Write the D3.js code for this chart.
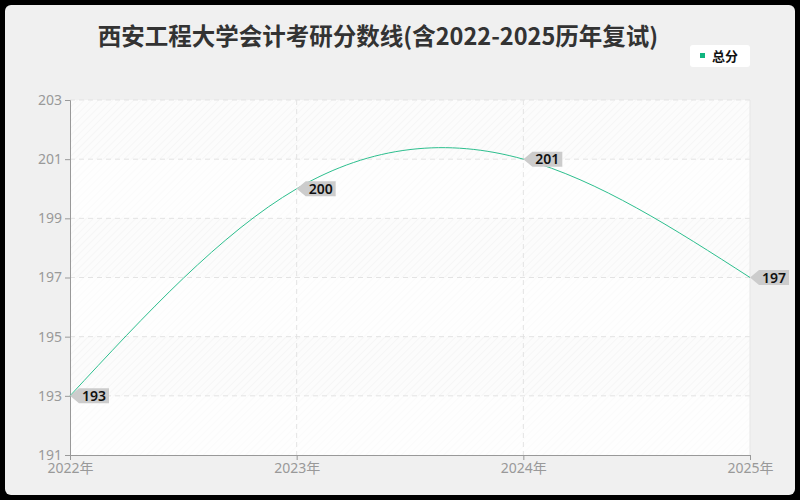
<!DOCTYPE html>
<html>
<head>
<meta charset="utf-8">
<script src="https://cdn.jsdelivr.net/npm/d3@7"></script>
<style>
  body { margin: 0; background: #000; }
  svg { display: block; font-family: "Noto Sans CJK SC", "Noto Sans", sans-serif; }
</style>
</head>
<body>
<svg></svg>
<script>
const years = ["2022", "2023", "2024", "2025"];
const scores = [193, 200, 201, 197];
const yTicks = [191, 193, 195, 197, 199, 201, 203];
const title = "西安工程大学会计考研分数线(含2022-2025历年复试)";
const seriesName = "总分";

const width = 800;
const height = 500;
const margin = { top: 100, right: 50, bottom: 45, left: 70 };
const lineColor = "#2dbf8e";

const svg = d3.select("svg")
    .attr("width", width)
    .attr("height", height);

// achtergrondkaart
svg.append("rect")
    .attr("x", 5).attr("y", 5)
    .attr("width", width - 10).attr("height", height - 10)
    .attr("rx", 6)
    .attr("fill", "#f0f0f0");

const defs = svg.append("defs");
const hatch = defs.append("pattern")
    .attr("id", "hatch")
    .attr("width", 5).attr("height", 5)
    .attr("patternUnits", "userSpaceOnUse")
    .attr("patternTransform", "rotate(45)");
hatch.append("rect").attr("width", 5).attr("height", 5).attr("fill", "#fcfcfc");
hatch.append("line").attr("x1", 0).attr("y1", 0).attr("x2", 0).attr("y2", 5)
    .attr("stroke", "#f3f3f3").attr("stroke-width", 1.2);

const x = d3.scalePoint()
    .domain(years)
    .range([margin.left, width - margin.right]);

const y = d3.scaleLinear()
    .domain([191, 203])
    .range([height - margin.bottom, margin.top]);

// plotgebied
svg.append("rect")
    .attr("x", margin.left).attr("y", margin.top)
    .attr("width", width - margin.left - margin.right)
    .attr("height", height - margin.top - margin.bottom)
    .attr("fill", "url(#hatch)");

// afwisselende banden
svg.selectAll(".band")
    .data(d3.pairs(yTicks).filter((d, i) => i % 2 === 0))
    .enter().append("rect")
    .attr("class", "band")
    .attr("x", margin.left)
    .attr("width", width - margin.left - margin.right)
    .attr("y", d => y(d[1]))
    .attr("height", d => y(d[0]) - y(d[1]))
    .attr("fill", "#ffffff")
    .attr("opacity", 0.5);

// rasterlijnen
svg.selectAll(".hgrid")
    .data(yTicks.slice(1))
    .enter().append("line")
    .attr("x1", margin.left).attr("x2", width - margin.right)
    .attr("y1", d => y(d)).attr("y2", d => y(d))
    .attr("stroke", "#e3e3e3")
    .attr("stroke-dasharray", "5,4");

svg.selectAll(".vgrid")
    .data(years.slice(1, -1))
    .enter().append("line")
    .attr("x1", d => x(d)).attr("x2", d => x(d))
    .attr("y1", margin.top).attr("y2", height - margin.bottom)
    .attr("stroke", "#e3e3e3")
    .attr("stroke-dasharray", "5,4");

svg.append("line")
    .attr("x1", width - margin.right).attr("x2", width - margin.right)
    .attr("y1", margin.top).attr("y2", height - margin.bottom)
    .attr("stroke", "#e6e6e6");

// assen
const yAxis = svg.append("g")
    .attr("transform", `translate(${margin.left},0)`)
    .call(d3.axisLeft(y).tickValues(yTicks).tickSize(5).tickPadding(3));

const xAxis = svg.append("g")
    .attr("transform", `translate(0,${height - margin.bottom})`)
    .call(d3.axisBottom(x).tickFormat(d => d + "年").tickSize(5).tickPadding(2));

[yAxis, xAxis].forEach(g => {
    g.select(".domain").attr("stroke", "#999");
    g.selectAll(".tick line").attr("stroke", "#999");
    g.selectAll("text")
        .attr("fill", "#999")
        .style("font-size", "14px")
        .style("font-family", "\"Noto Sans\", \"Noto Sans CJK SC\", sans-serif");
});
xAxis.selectAll("text").attr("dy", "0.75em");

// lijn
const line = d3.line()
    .x((d, i) => x(years[i]))
    .y(d => y(d))
    .curve(d3.curveNatural);

svg.append("path")
    .datum(scores)
    .attr("d", line)
    .attr("fill", "none")
    .attr("stroke", lineColor)
    .attr("stroke-width", 1);

// labels
const labels = svg.selectAll(".label")
    .data(scores)
    .enter().append("g")
    .attr("class", "label")
    .attr("transform", (d, i) => `translate(${x(years[i])},${y(d)})`);

labels.append("path")
    .attr("d", "M0,0 L9,-7.5 L39,-7.5 L39,7.5 L9,7.5 Z")
    .attr("fill", "#cccccc");

labels.append("text")
    .attr("x", 12)
    .attr("y", 5)
    .attr("fill", "#111")
    .style("font-size", "14px")
    .style("font-weight", "600")
    .style("font-family", "\"Noto Sans\", sans-serif")
    .text(d => d);

// titel
svg.append("text")
    .attr("x", 378)
    .attr("y", 45)
    .attr("text-anchor", "middle")
    .attr("fill", "#333")
    .style("font-size", "23.5px")
    .style("font-weight", "bold")
    .text(title);

// legenda
const legend = svg.append("g").attr("transform", "translate(690,45)");
legend.append("rect")
    .attr("width", 60).attr("height", 22).attr("rx", 3)
    .attr("fill", "#fff");
legend.append("rect")
    .attr("x", 10).attr("y", 8).attr("width", 5).attr("height", 5)
    .attr("fill", "#10b57f");
legend.append("text")
    .attr("x", 22).attr("y", 16)
    .attr("fill", "#111")
    .style("font-size", "13px")
    .style("font-weight", "bold")
    .text(seriesName);
</script>
</body>
</html>
